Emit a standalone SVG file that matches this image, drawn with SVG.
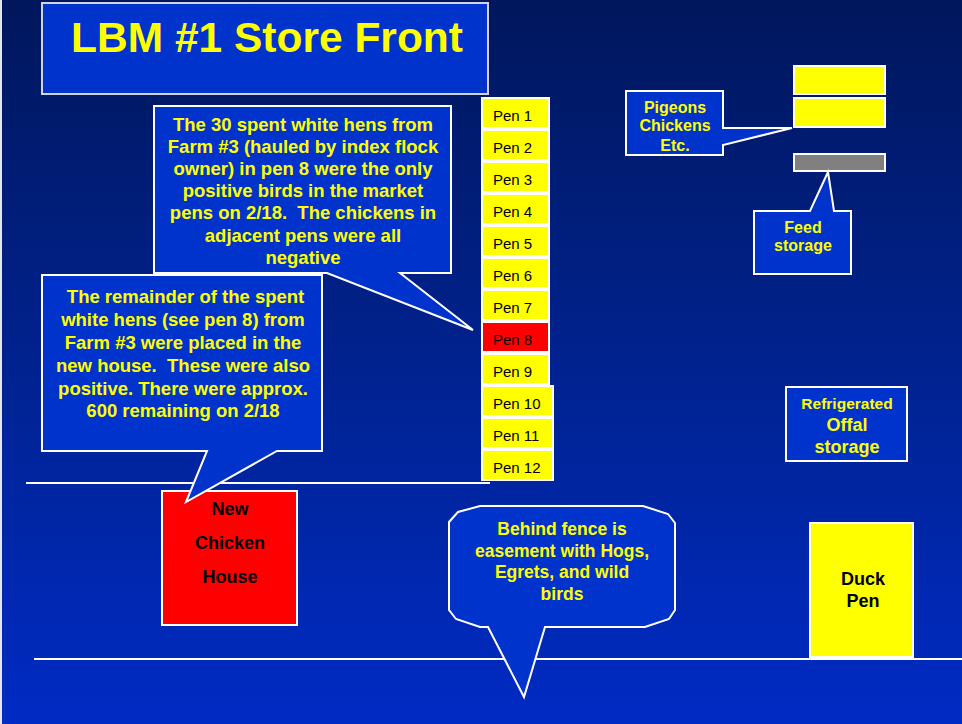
<svg xmlns="http://www.w3.org/2000/svg" width="962" height="724" viewBox="0 0 962 724">
<defs>
<linearGradient id="bg" x1="0" y1="0" x2="0" y2="1">
<stop offset="0" stop-color="#00175c"/>
<stop offset="0.5" stop-color="#00228f"/>
<stop offset="1" stop-color="#002bc4"/>
</linearGradient>
<style>
.box{stroke:#ffffff;stroke-width:2;}
.blue{fill:#0033cc;}
.yel{fill:#ffff00;}
.red{fill:#ff0000;}
.yt{font-family:"Liberation Sans",Arial,sans-serif;font-weight:bold;fill:#ffff00;text-anchor:middle;white-space:pre;}
.bt{font-family:"Liberation Sans",Arial,sans-serif;font-weight:bold;fill:#000000;text-anchor:middle;}
.pt{font-family:"Liberation Sans",Arial,sans-serif;font-size:15px;fill:#000000;}
.fence{stroke:#ffffff;stroke-width:2;fill:none;}
</style>
</defs>
<rect x="0" y="0" width="962" height="724" fill="url(#bg)"/>
<rect x="0" y="0" width="2" height="724" fill="#e4e6ee"/>

<g id="connectors">
<line class="fence" x1="26" y1="483" x2="490" y2="483"/>
<line class="fence" x1="34" y1="659" x2="962" y2="659"/>
</g>

<g id="title">
<rect x="42" y="3" width="446" height="91" fill="#0033cc" stroke="#d0d4e0" stroke-width="2"/>
<text class="yt" x="267" y="52" font-size="42.5">LBM #1 Store Front</text>
</g>

<g id="pens">
<g id="pen1"><rect class="box yel" x="482" y="98" width="67" height="30"/><text class="pt" x="493" y="121">Pen 1</text></g>
<g id="pen2"><rect class="box yel" x="482" y="130" width="67" height="30"/><text class="pt" x="493" y="153">Pen 2</text></g>
<g id="pen3"><rect class="box yel" x="482" y="162" width="67" height="30"/><text class="pt" x="493" y="185">Pen 3</text></g>
<g id="pen4"><rect class="box yel" x="482" y="194" width="67" height="30"/><text class="pt" x="493" y="217">Pen 4</text></g>
<g id="pen5"><rect class="box yel" x="482" y="226" width="67" height="30"/><text class="pt" x="493" y="249">Pen 5</text></g>
<g id="pen6"><rect class="box yel" x="482" y="258" width="67" height="30"/><text class="pt" x="493" y="281">Pen 6</text></g>
<g id="pen7"><rect class="box yel" x="482" y="290" width="67" height="30"/><text class="pt" x="493" y="313">Pen 7</text></g>
<g id="pen8"><rect class="box red" x="482" y="322" width="67" height="30"/><text class="pt" x="493" y="345">Pen 8</text></g>
<g id="pen9"><rect class="box yel" x="482" y="354" width="67" height="30"/><text class="pt" x="493" y="377">Pen 9</text></g>
<g id="pen10"><rect class="box yel" x="482" y="386" width="71" height="30"/><text class="pt" x="493" y="409">Pen 10</text></g>
<g id="pen11"><rect class="box yel" x="482" y="418" width="71" height="30"/><text class="pt" x="493" y="441">Pen 11</text></g>
<g id="pen12"><rect class="box yel" x="482" y="450" width="71" height="30"/><text class="pt" x="493" y="473">Pen 12</text></g>
</g>

<g id="cages">
<rect class="box yel" x="794" y="66" width="91" height="28"/>
<rect class="box yel" x="794" y="98" width="91" height="29"/>
<rect class="box" x="794" y="154" width="91" height="17" fill="#808080"/>
</g>

<g id="new-chicken-house">
<rect class="box red" x="162" y="491" width="135" height="134"/>
<text class="bt" x="230" y="515" font-size="18">New</text>
<text class="bt" x="230" y="549" font-size="18">Chicken</text>
<text class="bt" x="230" y="583" font-size="18">House</text>
</g>

<g id="callout-pen8">
<path class="box blue" d="M154,106 H451 V273 H400 L473,330 L327,273 H154 Z"/>
<text class="yt" font-size="18.5" x="303" y="131">The 30 spent white hens from</text>
<text class="yt" font-size="18.5" x="303" y="153">Farm #3 (hauled by index flock</text>
<text class="yt" font-size="18.5" x="303" y="175">owner) in pen 8 were the only</text>
<text class="yt" font-size="18.5" x="303" y="197">positive birds in the market</text>
<text class="yt" font-size="18.5" x="303" y="219">pens on 2/18.  The chickens in</text>
<text class="yt" font-size="18.5" x="303" y="242">adjacent pens were all</text>
<text class="yt" font-size="18.5" x="303" y="264">negative</text>
</g>

<g id="callout-new-house">
<path class="box blue" d="M42,275 H322 V451 H277 L186,502 L207,451 H42 Z"/>
<text class="yt" font-size="18.5" x="183" y="303"> The remainder of the spent</text>
<text class="yt" font-size="18.5" x="183" y="326">white hens (see pen 8) from</text>
<text class="yt" font-size="18.5" x="183" y="349">Farm #3 were placed in the</text>
<text class="yt" font-size="18.5" x="183" y="372">new house.  These were also</text>
<text class="yt" font-size="18.5" x="183" y="395">positive. There were approx.</text>
<text class="yt" font-size="18.5" x="183" y="417">600 remaining on 2/18</text>
</g>

<g id="callout-pigeons">
<path class="box blue" d="M626,91 H723 V128 L792,128 L723,145 V155 H626 Z"/>
<text class="yt" font-size="16" x="675" y="113">Pigeons</text>
<text class="yt" font-size="16" x="675" y="131">Chickens</text>
<text class="yt" font-size="16" x="675" y="151">Etc.</text>
</g>

<g id="callout-feed">
<path class="box blue" d="M754,211 H810 L828,172 L834,211 H851 V274 H754 Z"/>
<text class="yt" font-size="16" x="803" y="233">Feed</text>
<text class="yt" font-size="16" x="803" y="251">storage</text>
</g>

<g id="refrigerated-offal">
<rect class="box blue" x="786" y="387" width="121" height="74"/>
<text class="yt" font-size="15.5" x="847" y="409">Refrigerated</text>
<text class="yt" font-size="18" x="847" y="431">Offal</text>
<text class="yt" font-size="18" x="847" y="453">storage</text>
</g>

<g id="duck-pen">
<rect class="box yel" x="810" y="523" width="103" height="134"/>
<text class="bt" x="863" y="585" font-size="18">Duck</text>
<text class="bt" x="863" y="607" font-size="18">Pen</text>
</g>

<g id="callout-fence">
<path class="box blue" d="M449,522 L458,512 L480,506 H643 L668,514 L675,523 V610 L669,619 L645,627 H545 L524,697 L488,627 H480 L456,619 L449,610 Z"/>
<text class="yt" font-size="17.5" x="562" y="535">Behind fence is</text>
<text class="yt" font-size="17.5" x="562" y="557">easement with Hogs,</text>
<text class="yt" font-size="17.5" x="562" y="578">Egrets, and wild</text>
<text class="yt" font-size="17.5" x="562" y="600">birds</text>
</g>
</svg>
